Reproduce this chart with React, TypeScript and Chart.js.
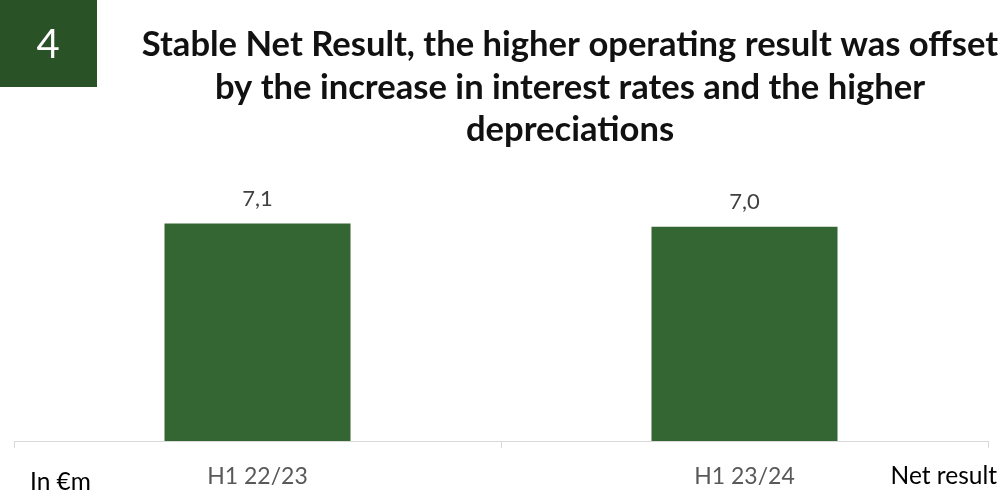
import React, { useEffect, useRef } from "react";
import { Chart, registerables } from "chart.js";

Chart.register(...registerables);

const categories = ["H1 22/23", "H1 23/24"];
const netResult = [7.1, 7.0];
const valueLabels = ["7,1", "7,0"];
const titleLines = [
  "Stable Net Result, the higher operating result was offset",
  "by the increase in interest rates and the higher",
  "depreciations",
];
const badgeText = "4";
const unitText = "In €m";
const seriesName = "Net result";

const FONT = "Lato, 'Open Sans', sans-serif";

export default function App() {
  const ref = useRef<HTMLCanvasElement | null>(null);
  useEffect(() => {
    if (!ref.current) return;
    const overlay = {
      id: "overlay",
      afterDraw(chart: any) {
        const ctx = chart.ctx as CanvasRenderingContext2D;
        ctx.save();
        // badge
        ctx.fillStyle = "#2a5227";
        ctx.fillRect(0, 0, 97, 87);
        ctx.fillStyle = "#ffffff";
        ctx.font = `40px ${FONT}`;
        ctx.textAlign = "center";
        ctx.textBaseline = "middle";
        ctx.fillText(badgeText, 48, 45);
        // title
        ctx.fillStyle = "#111111";
        ctx.font = `bold 34.6px ${FONT}`;
        titleLines.forEach((t, i) => ctx.fillText(t, 570, 45 + i * 42.5));
        // unit + series name
        ctx.font = `24.5px ${FONT}`;
        ctx.fillStyle = "#000000";
        ctx.textAlign = "left";
        ctx.fillText(unitText, 30, 482);
        ctx.textAlign = "right";
        ctx.fillText(seriesName, 997, 476);
        // value labels
        ctx.textAlign = "center";
        ctx.fillStyle = "#404040";
        ctx.font = `22px ${FONT}`;
        const meta = chart.getDatasetMeta(0);
        meta.data.forEach((bar: any, i: number) => {
          ctx.fillText(valueLabels[i], bar.x, bar.y - 25);
        });
        ctx.restore();
      },
    };
    const chart = new Chart(ref.current, {
      type: "bar",
      data: {
        labels: categories,
        datasets: [
          {
            label: seriesName,
            data: netResult,
            backgroundColor: "#346633",
            barPercentage: 0.764,
            categoryPercentage: 0.5,
          },
        ],
      },
      options: {
        animation: false,
        responsive: false,
        maintainAspectRatio: false,
        layout: { padding: { top: 196, left: 14, right: 20, bottom: 0 } },
        plugins: { legend: { display: false }, tooltip: { enabled: false }, title: { display: false } },
        scales: {
          y: { display: false, min: 0, max: 8 },
          x: {
            afterFit: (s: any) => {
              s.height = 55;
            },
            border: { display: true, color: "#d9d9d9", width: 1 },
            grid: {
              offset: true,
              drawOnChartArea: false,
              drawTicks: true,
              tickLength: 7,
              color: "#d9d9d9",
            },
            ticks: {
              color: "#595959",
              font: { family: FONT, size: 23 },
              padding: 15,
            },
          },
        },
      },
      plugins: [overlay],
    });
    return () => chart.destroy();
  }, []);
  return (
    <div style={{ position: "absolute", left: 0, top: 0, width: 1008, height: 496, background: "#fff" }}>
      <canvas ref={ref} width={1008} height={496} style={{ width: 1008, height: 496 }} />
    </div>
  );
}
